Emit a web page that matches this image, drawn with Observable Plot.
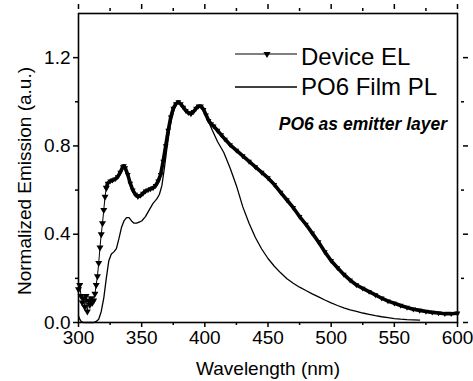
<!DOCTYPE html>
<html>
<head>
<meta charset="utf-8">
<script src="https://cdn.jsdelivr.net/npm/d3@7"></script>
<script src="https://cdn.jsdelivr.net/npm/@observablehq/plot@0.6"></script>
<style>
  html, body { margin: 0; padding: 0; background: white; }
  #chart { width: 473px; height: 381px; }
</style>
</head>
<body>
<div id="chart"></div>
<script>
// Device EL (electroluminescence), wavelength in nm
const elWavelength = [300,301,302,303,304,305,306,307,308,309,310,311,312,313,314,315,316,317,318,319,320,321,322,323,325,327,329,331,333,335,336,337,339,341,343,345,347,349,351,353,355,357,359,361,363,365,367,369,371,373,375,377,379,381,383,385,387,389,391,393,395,397,399,401,403,405,407,410,413,416,420,425,430,435,440,445,450,455,460,465,470,475,480,485,490,495,500,505,510,515,520,525,530,535,540,545,550,555,560,565,570,575,580,585,590,595,600];
const elEmission = [0.15,0.17,0.12,0.09,0.11,0.07,0.12,0.05,0.10,0.08,0.11,0.09,0.10,0.13,0.17,0.21,0.27,0.34,0.40,0.45,0.51,0.57,0.61,0.63,0.64,0.645,0.65,0.66,0.68,0.705,0.71,0.70,0.67,0.63,0.60,0.58,0.57,0.575,0.585,0.595,0.60,0.605,0.61,0.62,0.64,0.67,0.73,0.80,0.87,0.93,0.97,0.99,1.0,0.99,0.975,0.96,0.95,0.945,0.955,0.97,0.98,0.98,0.965,0.94,0.915,0.90,0.89,0.87,0.85,0.83,0.805,0.78,0.755,0.73,0.705,0.68,0.655,0.625,0.59,0.555,0.52,0.48,0.445,0.405,0.365,0.32,0.28,0.248,0.218,0.192,0.17,0.155,0.14,0.125,0.11,0.097,0.087,0.077,0.068,0.06,0.055,0.05,0.046,0.043,0.04,0.04,0.042];

// PO6 film PL (photoluminescence)
const plWavelength = [300,301,302,304,308,312,314,316,318,320,322,324,326,328,330,332,334,336,338,340,342,344,346,348,350,353,356,359,362,364,366,368,370,372,374,376,378,380,383,386,389,392,395,397,400,403,406,410,415,420,425,430,435,440,445,450,455,460,465,470,475,480,485,490,495,500,505,510,515,520,525,530,535,540,545,550,555,560,565,570];
const plEmission = [0.03,0.015,0.005,0.0,0.0,0.0,0.005,0.015,0.05,0.11,0.2,0.28,0.31,0.32,0.335,0.38,0.43,0.46,0.475,0.475,0.46,0.45,0.45,0.455,0.46,0.48,0.51,0.54,0.56,0.58,0.62,0.70,0.79,0.87,0.93,0.97,0.995,0.995,0.975,0.955,0.945,0.96,0.975,0.975,0.95,0.91,0.87,0.82,0.77,0.70,0.62,0.525,0.45,0.385,0.333,0.29,0.255,0.225,0.198,0.178,0.16,0.145,0.13,0.116,0.102,0.089,0.077,0.066,0.057,0.05,0.043,0.037,0.031,0.026,0.022,0.018,0.015,0.013,0.012,0.011];

const xMajorTicks = [300,350,400,450,500,550,600];
const xMinorTicks = [325,375,425,475,525,575];
const yMajorTicks = [0.0,0.4,0.8,1.2];
const yMinorTicks = [0.2,0.6,1.0];

const xTitle = "Wavelength (nm)";
const yTitle = "Normalized Emission (a.u.)";
const seriesNames = ["Device EL", "PO6 Film PL"];
const annotation = "PO6 as emitter layer";

const el = elWavelength.map((w, i) => ({w, v: elEmission[i]}));
const pl = plWavelength.map((w, i) => ({w, v: plEmission[i]}));
const elSparse = el.filter(d => d.w <= 322);
const elDense = el.filter(d => d.w >= 322);

const font = "'Liberation Sans', Arial, sans-serif";

const chart = Plot.plot({
  width: 473,
  height: 381,
  marginLeft: 78,
  marginRight: 16,
  marginTop: 13,
  marginBottom: 59,
  style: {fontFamily: font, fontSize: "19px", color: "black", background: "white"},
  x: {domain: [300, 600]},
  y: {domain: [0, 1.4]},
  marks: [
    Plot.axisX({ticks: xMajorTicks, tickSize: 5, tickPadding: 3, tickFormat: d => String(d), strokeWidth: 1.5,
      label: xTitle, labelAnchor: "center", labelArrow: "none", labelOffset: 52}),
    Plot.axisX({ticks: xMinorTicks, tickSize: 3, strokeWidth: 1.5, text: null, label: null}),
    Plot.axisX({anchor: "top", ticks: xMajorTicks, tickSize: 5, insetTop: -5, strokeWidth: 1.5, text: null, label: null}),
    Plot.axisX({anchor: "top", ticks: xMinorTicks, tickSize: 3, insetTop: -3, strokeWidth: 1.5, text: null, label: null}),
    Plot.axisY({ticks: yMajorTicks, tickSize: 5, tickPadding: 3, tickFormat: d3.format(".1f"), strokeWidth: 1.5, label: null}),
    Plot.axisY({ticks: yMinorTicks, tickSize: 3, strokeWidth: 1.5, text: null, label: null}),
    Plot.axisY({anchor: "right", ticks: yMajorTicks, tickSize: 5, insetRight: -5, strokeWidth: 1.5, text: null, label: null}),
    Plot.axisY({anchor: "right", ticks: yMinorTicks, tickSize: 3, insetRight: -3, strokeWidth: 1.5, text: null, label: null}),
    Plot.text([yTitle], {frameAnchor: "left", rotate: -90, dx: -54, dy: 13, fontSize: 19, textAnchor: "middle", lineAnchor: "middle"}),
    Plot.line(pl, {x: "w", y: "v", stroke: "black", strokeWidth: 1.3}),
    Plot.line(el, {x: "w", y: "v", stroke: "black", strokeWidth: 1}),
    Plot.line(elDense, {x: "w", y: "v", stroke: "black", strokeWidth: 3.6}),
    Plot.dot(elSparse, {x: "w", y: "v", symbol: "triangle", rotate: 180, r: 2.6, fill: "black", stroke: null}),
    Plot.dot(elDense, {x: "w", y: "v", symbol: "triangle", rotate: 180, r: 2.1, fill: "black", stroke: null}),
    Plot.frame({stroke: "black", strokeWidth: 1.6})
  ]
});

document.getElementById("chart").appendChild(chart);

// Legend and annotation (layout only)
const svg = d3.select(chart);
const lg = svg.append("g").attr("font-family", font).attr("fill", "black").attr("text-anchor", "start");
lg.append("line").attr("x1", 235).attr("x2", 297).attr("y1", 54).attr("y2", 54).attr("stroke", "black").attr("stroke-width", 1.2);
lg.append("path").attr("d", d3.symbol(d3.symbolTriangle, 22)()).attr("transform", "translate(267,54) rotate(180)").attr("fill", "black");
lg.append("text").attr("x", 301).attr("y", 65).attr("font-size", 24).attr("text-anchor", "start").text(seriesNames[0]);
lg.append("line").attr("x1", 235).attr("x2", 297).attr("y1", 87).attr("y2", 87).attr("stroke", "black").attr("stroke-width", 1.3);
lg.append("text").attr("x", 301).attr("y", 95).attr("font-size", 24).attr("text-anchor", "start").text(seriesNames[1]);
lg.append("text").attr("x", 447).attr("y", 130).attr("text-anchor", "end").attr("font-size", 17.5)
  .attr("font-weight", "bold").attr("font-style", "italic").text(annotation);
</script>
</body>
</html>
